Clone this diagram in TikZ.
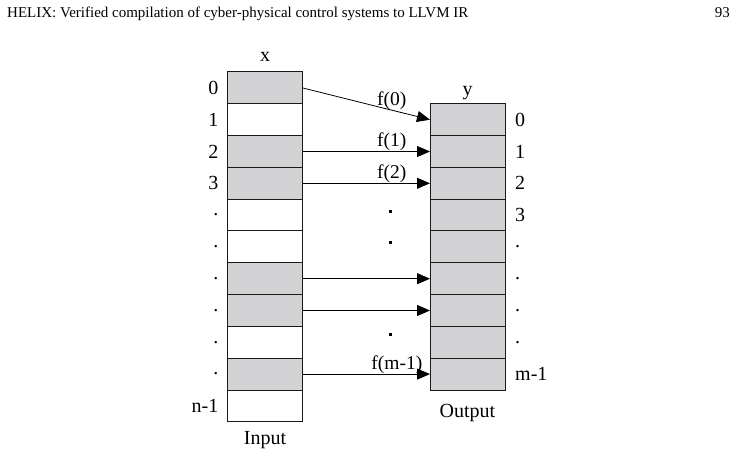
\documentclass[tikz,border=0pt]{standalone}
\usepackage{fontspec}
\setmainfont{Liberation Serif}
\usetikzlibrary{arrows.meta,positioning}
\definecolor{cCell}{RGB}{211,211,213}
\tikzset{
  cell/.style={draw=black!90, line width=1pt, minimum width=75pt,
               minimum height=31.8pt, inner sep=0pt, outer sep=0pt},
  full/.style={cell, fill=cCell},
  blank/.style={cell, fill=white},
  idx/.style={font=\fontsize{20}{20}\selectfont, inner sep=0pt},
  fl/.style={font=\fontsize{19.5}{19.5}\selectfont, inner sep=0.5pt, above},
  arr/.style={-{Triangle[length=13pt,width=11pt]}, line width=0.8pt},
  dotb/.style={fill=black, minimum size=3pt, inner sep=0pt},
}

\begin{document}
\begin{tikzpicture}[x=1pt,y=1pt]
  \useasboundingbox (0,0) rectangle (737,456);
  % running head
  \node[anchor=base west, font=\fontsize{15}{15}\selectfont, inner sep=0pt] (head) at (7,438)
    {HELIX: Verified compilation of cyber-physical control systems to LLVM IR};
  \node[anchor=base east, font=\fontsize{15}{15}\selectfont, inner sep=0pt] (page) at (730,438) {93};
  % input vector x
  \foreach \i/\s/\l in {0/full/0,1/blank/1,2/full/2,3/full/3,4/blank/.,5/blank/.,
                        6/full/.,7/full/.,8/blank/.,9/full/.,10/blank/n-1}{
    \node[\s] (x\i) at (265,{384-31.8*(\i+0.5)}) {};
    \node[idx, left=9pt of x\i] (lx\i) {\l};
  }
  % output vector y
  \foreach \j/\l in {0/0,1/1,2/2,3/3,4/.,5/.,6/.,7/.,8/m-1}{
    \node[full] (y\j) at (467.5,{384-31.8*(\j+1.5)}) {};
    \node[idx, right=10pt of y\j] (ly\j) {\l};
  }
  \node[idx, above=10pt of x0] (xt) {x};
  \node[idx, above=4pt of y0] (yt) {y};
  \node[idx, below=9.5pt of x10] (inp) {Input};
  \node[idx, below=14pt of y8] (outp) {Output};
  % gather arrows
  \draw[arr] (x0.east) -- node[fl, pos=0.7] (f0) {f(0)} (y0.west);
  \draw[arr] (x2.east) -- node[fl, pos=0.7] (f1) {f(1)} (y1.west);
  \draw[arr] (x3.east) -- node[fl, pos=0.7] (f2) {f(2)} (y2.west);
  \draw[arr] (x6.east) -- (y5.west);
  \draw[arr] (x7.east) -- (y6.west);
  \draw[arr] (x9.east) -- node[fl, pos=0.74] (fm) {f(m-1)} (y8.west);
  % elided entries
  \node[dotb] (d1) at (390,244) {};
  \node[dotb] (d2) at (390,213) {};
  \node[dotb] (d3) at (390,122) {};
\end{tikzpicture}
\end{document}
